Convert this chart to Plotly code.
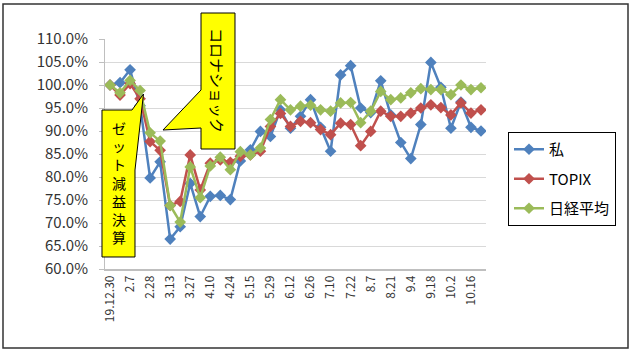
import plotly.graph_objects as go

dates = ["19.12.30", "1.31", "2.7", "2.21", "2.28", "3.6", "3.13", "3.19", "3.27", "4.3",
         "4.10", "4.17", "4.24", "5.8", "5.15", "5.22", "5.29", "6.5", "6.12", "6.19",
         "6.26", "7.3", "7.10", "7.17", "7.22", "7.31", "8.7", "8.14", "8.21", "8.28",
         "9.4", "9.11", "9.18", "9.25", "10.2", "10.9", "10.16", "10.23"]

watashi = [100.0, 100.5, 103.3, 95.5, 79.8, 83.3, 66.5, 69.2, 78.6, 71.4,
           75.8, 76.0, 75.1, 83.5, 85.9, 89.9, 88.8, 94.6, 90.6, 93.2,
           96.8, 90.8, 85.6, 102.2, 104.2, 95.0, 94.0, 100.9, 93.5, 87.5,
           84.0, 91.4, 104.9, 99.5, 90.6, 96.3, 90.8, 90.0]

topix = [100.0, 97.8, 100.3, 97.0, 87.7, 85.8, 73.8, 74.7, 84.8, 77.2,
         83.0, 83.7, 83.2, 84.5, 84.8, 85.6, 91.0, 93.8, 91.0, 92.1,
         91.8, 90.3, 89.2, 91.7, 91.4, 86.8, 89.9, 94.3, 93.2, 93.2,
         93.9, 95.0, 95.7, 95.1, 93.5, 96.1, 93.9, 94.6]

nikkei = [100.0, 98.3, 101.0, 98.8, 89.6, 87.8, 73.8, 70.2, 82.2, 75.5,
          82.4, 84.3, 81.6, 85.5, 84.8, 86.3, 92.5, 96.8, 94.6, 95.4,
          95.6, 94.6, 94.3, 96.1, 96.2, 91.8, 94.3, 98.6, 96.8, 97.2,
          98.3, 99.2, 99.0, 99.0, 97.9, 100.0, 99.0, 99.4]

series_names = ["私", "TOPIX", "日経平均"]
series_values = [watashi, topix, nikkei]
series_colors = ["#4F81BD", "#C0504D", "#9BBB59"]

FONT = "Noto Sans CJK JP"
W, H = 635, 353
L, R, T, B = 105, 149, 39, 84
PW, PH = W - L - R, H - T - B


def px(x):
    return (x - L) / PW


def py(y):
    return (H - B - y) / PH


fig = go.Figure()
for i, (name, vals, col) in enumerate(zip(series_names, series_values, series_colors)):
    fig.add_trace(go.Scatter(
        x=dates, y=vals, name=name, mode="lines+markers",
        line=dict(color=col, width=2.5),
        marker=dict(symbol="diamond", size=9, color=col),
        legendgroup=f"g{i}",
    ))


def poly(points):
    return "M " + " L ".join(f"{px(x):.4f},{py(y):.4f}" for x, y in points) + " Z"


right_callout = [(201, 13), (235, 13), (235, 149), (201, 149), (201, 128),
                 (163, 130), (201, 90)]
left_callout = [(102, 110), (132, 110), (143.5, 94), (135, 170), (135, 257), (102, 257)]

shapes = [
    dict(type="path", xref="paper", yref="paper", path=poly(right_callout),
         fillcolor="#FFFF00", line=dict(color="#000000", width=1), layer="above"),
    dict(type="path", xref="paper", yref="paper", path=poly(left_callout),
         fillcolor="#FFFF00", line=dict(color="#000000", width=1), layer="above"),
    dict(type="rect", xref="paper", yref="paper",
         x0=px(3), x1=px(628), y0=py(348), y1=py(4),
         line=dict(color="#333333", width=1.5), fillcolor="rgba(0,0,0,0)", layer="above"),
]

annotations = [
    dict(xref="paper", yref="paper", x=px(218), y=py(80), text="コロナショック",
         textangle=90, showarrow=False, font=dict(family=FONT, size=15, color="#000000"),
         xanchor="center", yanchor="middle"),
    dict(xref="paper", yref="paper", x=px(118.5), y=py(182),
         text="ゼ<br>ッ<br>ト<br>減<br>益<br>決<br>算",
         showarrow=False, font=dict(family=FONT, size=14, color="#000000"),
         xanchor="center", yanchor="middle"),
]

fig.update_layout(
    width=W, height=H,
    margin=dict(l=L, r=R, t=T, b=B),
    paper_bgcolor="white", plot_bgcolor="white",
    font=dict(family=FONT, color="#333333"),
    showlegend=True,
    legend=dict(x=px(508), y=py(132), xanchor="left", yanchor="top",
                bordercolor="#000000", borderwidth=1, bgcolor="white",
                font=dict(family=FONT, size=15, color="#000000"),
                tracegroupgap=7, traceorder="grouped"),
    shapes=shapes,
    annotations=annotations,
)

fig.update_xaxes(
    type="category", range=[-0.5, len(dates) - 0.5], autorange=False,
    tickmode="array", tickvals=dates[::2], ticktext=dates[::2],
    tickangle=-90, tickfont=dict(family=FONT, size=12, color="#333333"),
    showgrid=False, showline=True, linecolor="#BFBFBF", linewidth=1.5,
    ticks="", zeroline=False,
)
fig.update_yaxes(
    range=[60, 110], dtick=5, tick0=60, tickformat=".1f", ticksuffix="%",
    tickfont=dict(family=FONT, size=15, color="#333333"),
    showgrid=True, gridcolor="#D9D9D9", gridwidth=1,
    showline=True, linecolor="#BFBFBF", linewidth=1,
    ticks="outside", ticklen=5, tickcolor="#BFBFBF", zeroline=False,
    ticklabelstandoff=8,
)

fig.write_html("out.html")
